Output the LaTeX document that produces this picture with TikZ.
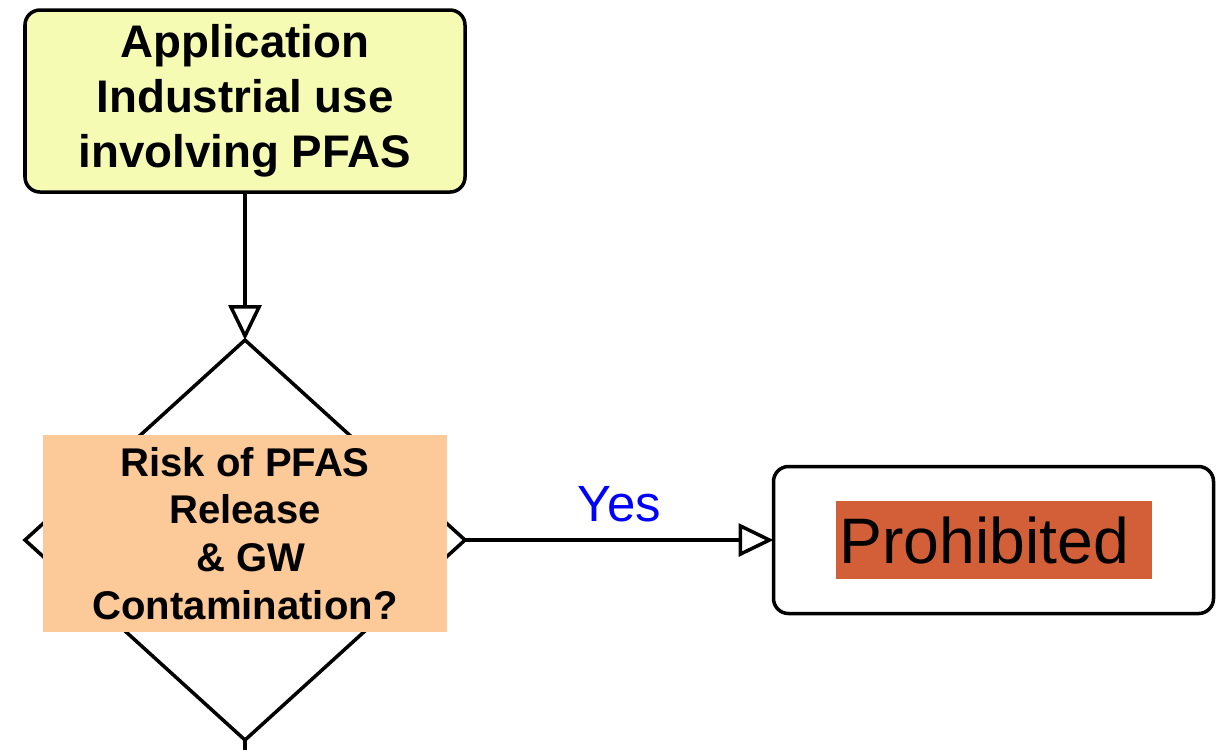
\documentclass[tikz,border=0pt]{standalone}
\usepackage{fontspec}
\setmainfont{Liberation Sans}
\usetikzlibrary{arrows.meta,shapes.geometric}

\definecolor{appyellow}{RGB}{246,251,180}
\definecolor{riskpeach}{RGB}{252,201,153}
\definecolor{banred}{RGB}{211,95,56}

\begin{document}
\begin{tikzpicture}[
  flow/.style={line width=1pt, -{Triangle[open,length=0.35cm,width=0.33cm]}},
  box/.style={draw, line width=1pt, rounded corners=0.15cm, align=center}]

\useasboundingbox (0,0) rectangle (12.25,-7.49);

\node[box, fill=appyellow, minimum width=4.4cm, minimum height=1.82cm,
  font=\bfseries\fontsize{13}{15.6}\selectfont] (app) at (2.45,-1.01)
  {Application\\Industrial use\\involving PFAS};

% decision: diamond under the peach label
\node[diamond, draw, line width=1pt, minimum width=4.4cm, minimum height=4cm,
  inner sep=0pt, outer sep=0pt] (risk) at (2.45,-5.40) {};
\node[fill=riskpeach, minimum width=4.04cm, minimum height=1.93cm, align=center,
  font=\bfseries\fontsize{11.4}{13.6}\selectfont] (riskq) at (2.45,-5.335)
  {Risk of PFAS\\Release\\\hspace*{0.3em}\& GW\\Contamination?};

\node[box, fill=white, minimum width=4.4cm, minimum height=1.47cm, outer sep=0pt] (ban) at (9.935,-5.40) {};
\node[fill=banred, text width=3.08cm, inner xsep=0.04cm, minimum height=0.78cm,
  align=left, font=\fontsize{18.3}{22}\selectfont] (banlbl) at (ban.center) {Prohibited};

\draw[flow] (app) -- (risk.north);
\draw[flow] (risk.east) -- node[above, yshift=0.05cm, text=blue, font=\fontsize{14.5}{16}\selectfont] (yes) {Yes} (ban.west);

\coordinate (next) at (2.45,-7.7);
\draw[line width=1pt] (risk.south) -- (next);

\end{tikzpicture}
\end{document}
